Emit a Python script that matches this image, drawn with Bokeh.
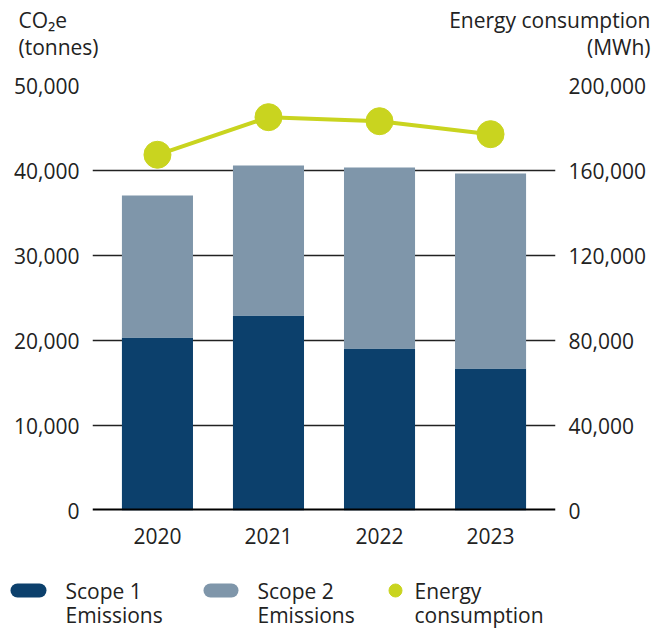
from bokeh.plotting import figure
from bokeh.models import (Range1d, LinearAxis, FixedTicker, NumeralTickFormatter, Span,
                          Label, ColumnDataSource)
from bokeh.layouts import column, row
from bokeh.embed import file_html
from bokeh.resources import INLINE

years = ["2020", "2021", "2022", "2023"]
scope1 = [20350, 22940, 19060, 16700]
scope2 = [16710, 17650, 21290, 22950]
energy = [167400, 185100, 183200, 177100]
left_ticks = [0, 10000, 20000, 30000, 40000, 50000]
right_ticks = [0, 40000, 80000, 120000, 160000, 200000]
left_title = ["CO\u2082e", "(tonnes)"]
right_title = ["Energy consumption", "(MWh)"]
legend_lines = [("Scope 1", "Emissions"), ("Scope 2", "Emissions"), ("Energy", "consumption")]

C1 = "#0c406c"
C2 = "#7f96aa"
CE = "#c9d41f"
TXT = "#222222"
FONT = "Open Sans"
FS = "21px"

W = 653
HT = 60            # title strip height
HM = 505           # main figure height
HL = 63            # legend strip height
FL, FR = 92, 555   # frame left/right (px)
FT, FB = 85 - HT, 510 - HT  # frame top/bottom inside main figure
XS, XE = -0.585, 3.585

xs = list(range(len(years)))
src = ColumnDataSource(dict(x=xs, s1=scope1, s2=scope2, energy=energy))


def strip(height):
    f = figure(width=W, height=height, output_backend="svg", toolbar_location=None,
               x_range=Range1d(0, W), y_range=Range1d(height, 0),
               x_axis_type=None, y_axis_type=None, min_border=0)
    f.outline_line_color = None
    f.grid.grid_line_color = None
    return f


# ---- title strip
top = strip(HT)
for i, t in enumerate(left_title):
    top.add_layout(Label(x=18, y=19 + 27 * i, text=t, text_font=FONT, text_font_size=FS,
                         text_color=TXT, text_baseline="middle", text_align="left"))
for i, t in enumerate(right_title):
    top.add_layout(Label(x=650, y=19 + 27 * i, text=t, text_font=FONT, text_font_size=FS,
                         text_color=TXT, text_baseline="middle", text_align="right"))

# ---- main chart
p = figure(width=W, height=HM, output_backend="svg", toolbar_location=None,
           x_range=Range1d(XS, XE), y_range=Range1d(0, 50000),
           min_border_left=FL, min_border_right=W - FR, min_border_top=FT,
           min_border_bottom=HM - FB)
p.outline_line_color = None
p.extra_y_ranges = {"energy": Range1d(0, 200000)}

p.vbar_stack(["s1", "s2"], x="x", width=0.64, color=[C1, C2], line_color=None, source=src)
p.line(x="x", y="energy", source=src, y_range_name="energy", color=CE, line_width=4)
p.scatter(x="x", y="energy", source=src, y_range_name="energy", color=CE, size=27)

p.add_layout(Span(location=0, dimension="width", line_color="#000000", line_width=4))

p.xgrid.grid_line_color = None
p.ygrid.ticker = FixedTicker(ticks=left_ticks)
p.ygrid.grid_line_color = "#222222"
p.ygrid.grid_line_width = 1.5

ax = p.yaxis[0]
ax.ticker = FixedTicker(ticks=left_ticks)
ax.formatter = NumeralTickFormatter(format="0,0")

rax = LinearAxis(y_range_name="energy")
rax.ticker = FixedTicker(ticks=right_ticks)
rax.formatter = NumeralTickFormatter(format="0,0")
p.add_layout(rax, "right")

xax = p.xaxis[0]
xax.ticker = FixedTicker(ticks=xs)
xax.major_label_overrides = {i: y for i, y in enumerate(years)}

for a in [ax, rax, xax]:
    a.axis_line_color = None
    a.major_tick_line_color = None
    a.minor_tick_line_color = None
    a.major_tick_out = 0
    a.major_tick_in = 0
    a.minor_tick_out = 0
    a.major_label_text_font = FONT
    a.major_label_text_font_size = FS
    a.major_label_text_color = TXT
ax.major_label_standoff = 13
rax.major_label_standoff = 13
xax.major_label_standoff = 17

# ---- legend strip
lg = strip(HL)
lg.line(x=[17, 39], y=[25, 25], line_width=14, line_cap="round", color=C1)
lg.line(x=[210, 231], y=[25, 25], line_width=14, line_cap="round", color=C2)
lg.scatter(x=[395], y=[25], size=13, color=CE)
text_x = [65, 257, 414]
for tx, (l1, l2) in zip(text_x, legend_lines):
    for j, t in enumerate([l1, l2]):
        lg.add_layout(Label(x=tx, y=25 + 24 * j, text=t, text_font=FONT, text_font_size="21px",
                            text_color=TXT, text_baseline="middle", text_align="left"))

layout = column(row(top), p, row(lg), spacing=0)
open("out.html", "w").write(file_html(layout, INLINE))
